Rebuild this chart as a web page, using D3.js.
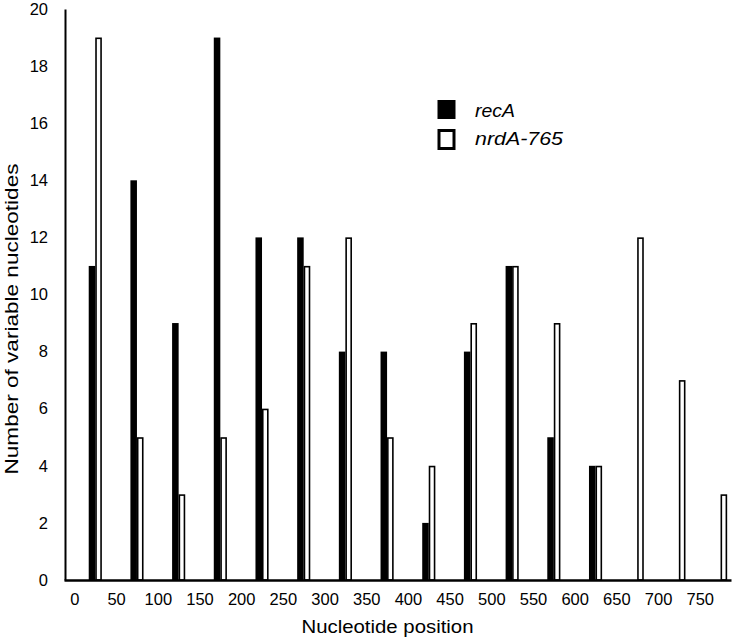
<!DOCTYPE html>
<html>
<head>
<meta charset="utf-8">
<script src="https://cdn.jsdelivr.net/npm/d3@7"></script>
<style>
  html, body { margin: 0; padding: 0; background: #fff; }
  svg { display: block; font-family: "Liberation Sans", Arial, sans-serif; }
</style>
</head>
<body>
<svg id="chart" width="733" height="638"></svg>
<script>
// ---- data ----
const positions = [25, 75, 125, 175, 225, 275, 325, 375, 425, 475, 525, 575, 625, 675, 725, 775];
const recA      = [11, 14, 9, 19, 12, 12, 8, 8, 2, 8, 11, 5, 4, 0, 0, 0];
const nrdA765   = [19, 5, 3, 5, 6, 11, 12, 5, 4, 9, 11, 9, 4, 12, 7, 3];
const xTicks = [0, 50, 100, 150, 200, 250, 300, 350, 400, 450, 500, 550, 600, 650, 700, 750];
const yTicks = [0, 2, 4, 6, 8, 10, 12, 14, 16, 18, 20];
const seriesNames = ["recA", "nrdA-765"];

const svg = d3.select("#chart");

// scales
const x = d3.scaleLinear().domain([-12.5, 787.5]).range([64, 731]);
const y = d3.scaleLinear().domain([0, 20]).range([580, 9]);

const step = x(50) - x(0);
const bw = step * 0.157;

// bars: recA (black, left), nrdA-765 (white outlined, right)
svg.append("g").selectAll("rect")
  .data(positions.map((p, i) => ({ p, v: recA[i] })).filter(d => d.v > 0))
  .join("rect")
  .attr("x", d => x(d.p) - bw)
  .attr("y", d => y(d.v))
  .attr("width", bw)
  .attr("height", d => y(0) - y(d.v))
  .attr("fill", "#000");

svg.append("g").selectAll("rect")
  .data(positions.map((p, i) => ({ p, v: nrdA765[i] })).filter(d => d.v > 0))
  .join("rect")
  .attr("x", d => x(d.p) + 0.75)
  .attr("y", d => y(d.v) + 0.75)
  .attr("width", bw - 1.5)
  .attr("height", d => y(0) - y(d.v) - 0.75)
  .attr("fill", "#fff")
  .attr("stroke", "#000")
  .attr("stroke-width", 1.6);

// axes
const yAxis = d3.axisLeft(y).tickValues(yTicks).tickSize(0).tickPadding(17);
const gy = svg.append("g").attr("transform", `translate(${x.range()[0] + 1},0)`).call(yAxis);
gy.select(".domain").attr("stroke", "#000").attr("stroke-width", 2);
gy.selectAll("text").attr("font-size", 16.5).attr("fill", "#000")
  .attr("font-family", '"Liberation Sans", Arial, sans-serif');

const xAxis = d3.axisBottom(x).tickValues(xTicks).tickSize(0).tickPadding(13);
const gx = svg.append("g").attr("transform", `translate(0,${y(0)})`).call(xAxis);
gx.select(".domain").attr("stroke", "#000").attr("stroke-width", 2.5);
gx.selectAll("text").attr("font-size", 16.5).attr("fill", "#000")
  .attr("font-family", '"Liberation Sans", Arial, sans-serif');

// axis titles
svg.append("text")
  .attr("x", 387.5).attr("y", 633)
  .attr("text-anchor", "middle")
  .attr("font-size", 18.6)
  .attr("textLength", 172).attr("lengthAdjust", "spacingAndGlyphs")
  .text("Nucleotide position");

svg.append("text")
  .attr("transform", "translate(17.5,319) rotate(-90)")
  .attr("text-anchor", "middle")
  .attr("font-size", 18.8)
  .attr("textLength", 311).attr("lengthAdjust", "spacingAndGlyphs")
  .text("Number of variable nucleotides");

// legend
const lg = svg.append("g");
lg.append("rect").attr("x", 437.5).attr("y", 100).attr("width", 18).attr("height", 19).attr("fill", "#000");
lg.append("rect").attr("x", 439).attr("y", 130.5).attr("width", 15).attr("height", 18)
  .attr("fill", "#fff").attr("stroke", "#000").attr("stroke-width", 3);
lg.append("text").attr("x", 475).attr("y", 117).attr("font-size", 18.6).attr("font-style", "italic")
  .attr("textLength", 40).attr("lengthAdjust", "spacingAndGlyphs").text(seriesNames[0]);
lg.append("text").attr("x", 475).attr("y", 145).attr("font-size", 18.6).attr("font-style", "italic")
  .attr("textLength", 88).attr("lengthAdjust", "spacingAndGlyphs").text(seriesNames[1]);
</script>
</body>
</html>
